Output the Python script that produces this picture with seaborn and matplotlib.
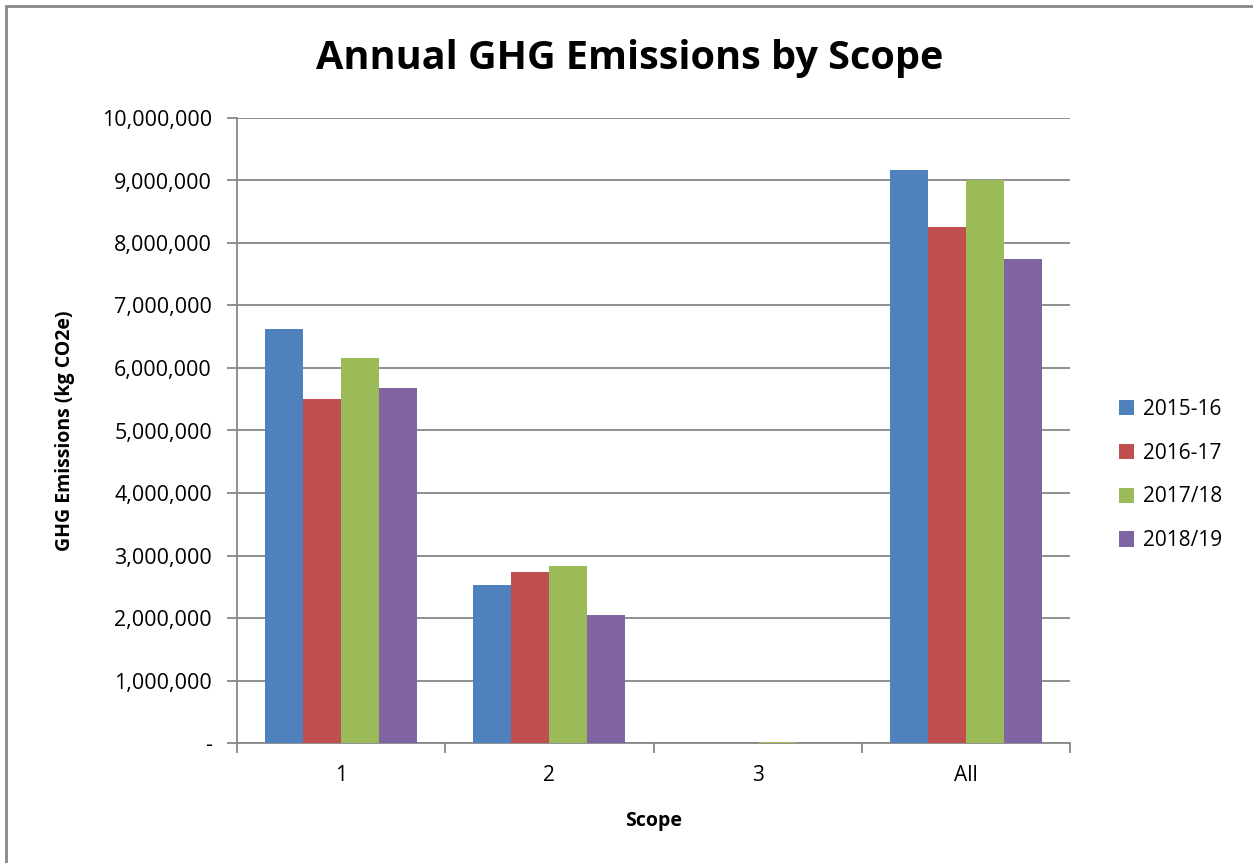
import matplotlib.pyplot as plt
import matplotlib.ticker as ticker
import numpy as np
import pandas as pd
import seaborn as sns
from matplotlib.patches import Rectangle

scopes = ['1', '2', '3', 'All']
years = ['2015-16', '2016-17', '2017/18', '2018/19']
v_2015_16 = [6620000, 2530000, 8000, 9170000]
v_2016_17 = [5500000, 2740000, 8000, 8260000]
v_2017_18 = [6160000, 2830000, 15000, 9010000]
v_2018_19 = [5680000, 2050000, 8000, 7740000]
colors = ['#4F81BD', '#C0504D', '#9BBB59', '#8064A2']

rows = []
for yr, vals in zip(years, [v_2015_16, v_2016_17, v_2017_18, v_2018_19]):
    for s, v in zip(scopes, vals):
        rows.append({'Scope': s, 'Year': yr, 'Emissions': v})
df = pd.DataFrame(rows)

sns.set_theme(style='white')
plt.rcParams['font.family'] = ['Open Sans', 'DejaVu Sans']
plt.rcParams['text.color'] = 'black'
plt.rcParams['axes.labelcolor'] = 'black'
plt.rcParams['xtick.color'] = 'black'
plt.rcParams['ytick.color'] = 'black'

fig = plt.figure(figsize=(12.53, 8.63), dpi=100)
ax = fig.add_axes([237 / 1253, 1 - 743 / 863, (1070 - 237) / 1253, (743 - 118) / 863])

g = sns.barplot(data=df, x='Scope', y='Emissions', hue='Year', hue_order=years,
                order=scopes, palette=colors, width=0.73, gap=0, ax=ax,
                saturation=1, edgecolor='none', linewidth=0, zorder=3)

ax.set_ylim(0, 10000000)
ax.set_xlim(-0.5, 3.5)
ax.yaxis.set_major_locator(ticker.MultipleLocator(1000000))
ax.yaxis.set_major_formatter(ticker.FuncFormatter(lambda v, p: '-' if v == 0 else f'{int(v):,}'))
ax.grid(axis='y', color='#878787', linewidth=1.3, zorder=0)
ax.set_axisbelow(True)

for side in ['top', 'right']:
    ax.spines[side].set_visible(False)
for side in ['left', 'bottom']:
    ax.spines[side].set_color('#878787')
    ax.spines[side].set_linewidth(1.3)

ax.xaxis.set_minor_locator(ticker.FixedLocator([-0.5, 0.5, 1.5, 2.5, 3.5]))
ax.tick_params(axis='x', which='major', length=0, labelsize=15, pad=16, labelcolor='black')
ax.tick_params(axis='x', which='minor', length=7, width=1.3, color='#878787', bottom=True)
ax.tick_params(axis='y', which='major', length=7, width=1.3, color='#878787', left=True,
               labelsize=15.5, pad=11, labelcolor='black')

ax.set_xlabel('Scope', fontsize=14, fontweight='bold', labelpad=18, color='black')
ax.set_ylabel('GHG Emissions (kg CO2e)', fontsize=14, fontweight='bold', labelpad=19, color='black')
fig.text(630 / 1253, 1 - 58 / 863, 'Annual GHG Emissions by Scope', ha='center', va='center',
         fontsize=28.5, fontweight='bold', color='black')

ax.legend(loc='center left', bbox_to_anchor=(1100 / 1253, 1 - 475 / 863),
          bbox_transform=fig.transFigure, frameon=False, fontsize=15, labelcolor='black',
          handlelength=0.75, handleheight=0.75, handletextpad=0.4, labelspacing=1.1, title=None)

fig.patches.append(Rectangle((6 / 1253, -0.01), 1.02, 1 - 6 / 863 + 0.01, transform=fig.transFigure,
                             fill=False, edgecolor='#878787', linewidth=2, zorder=0))

fig.savefig('out.png', dpi=100)
